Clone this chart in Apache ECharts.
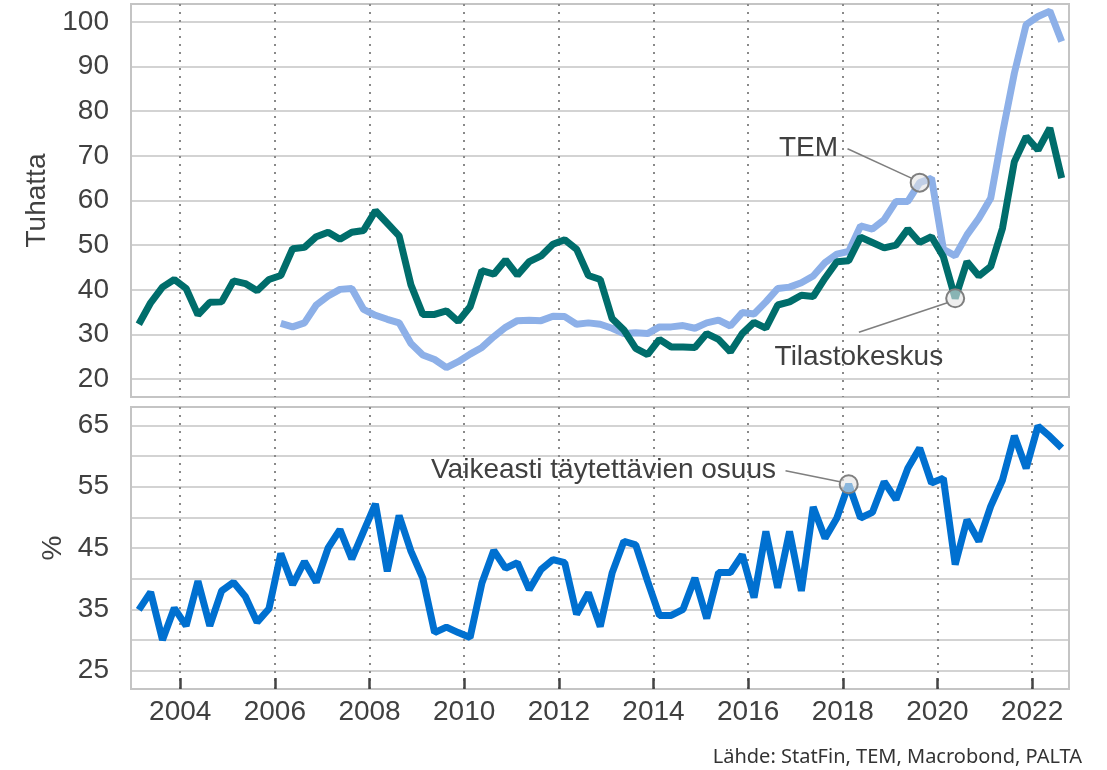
<!DOCTYPE html>
<html>
<head>
<meta charset="utf-8">
<title>Avoimet työpaikat</title>
<style>
    html, body { margin: 0; padding: 0; background: #fff; }
    #container { width: 1107px; height: 770px; }
</style>
</head>
<body>
<div id="container"></div>
<script src="https://cdn.jsdelivr.net/npm/echarts@6/dist/echarts.min.js"></script>
<script>
    // vuosineljännekset 2003Q1 .. 2022Q3
    var startYear = 2003;
    var evenYears = [2004, 2006, 2008, 2010, 2012, 2014, 2016, 2018, 2020, 2022];
    var topGridValues = [20, 30, 40, 50, 60, 70, 80, 90, 100];
    var bottomGridValues = [25, 30, 35, 40, 45, 50, 55, 60, 65];
    var bottomLabelValues = [25, 35, 45, 55, 65];

    // Tilastokeskus, tuhatta
    var tilastokeskus = [
        32.3, 37.1, 40.6, 42.3, 40.3, 34.4, 37.2, 37.3, 42.0, 41.4, 39.8, 42.3,
        43.2, 49.2, 49.5, 51.9, 52.9, 51.3, 52.9, 53.3, 57.7, 54.9, 52.1, 41.1,
        34.5, 34.5, 35.3, 32.9, 36.2, 44.3, 43.5, 46.7, 43.3, 46.3, 47.6, 50.2,
        51.2, 49.1, 43.2, 42.3, 33.6, 31.0, 26.9, 25.5, 28.9, 27.2, 27.2, 27.1,
        30.2, 28.9, 26.1, 30.2, 32.7, 31.4, 36.6, 37.3, 38.8, 38.5, 42.6, 46.3,
        46.5, 51.8, 50.6, 49.4, 50.0, 53.6, 50.6, 51.9, 47.4, 38.1, 46.3, 43.1,
        45.2, 53.8, 68.7, 74.3, 71.3, 76.2, 65.0
    ];
    // TEM, tuhatta (alkaa 2006Q1)
    var temStart = 12;
    var tem = [
        32.5, 31.7, 32.6, 36.6, 38.6, 40.1, 40.3, 35.6, 34.3, 33.4, 32.6, 28.0,
        25.4, 24.4, 22.6, 23.9, 25.6, 27.1, 29.5, 31.6, 33.1, 33.2, 33.1, 34.1,
        34.0, 32.3, 32.6, 32.3, 31.4, 30.2, 30.4, 30.2, 31.7, 31.7, 32.0, 31.4,
        32.6, 33.2, 31.9, 34.9, 34.6, 37.3, 40.3, 40.6, 41.6, 43.1, 46.1, 48.0,
        48.6, 54.3, 53.6, 55.7, 59.8, 59.8, 64.0, 65.0, 49.1, 47.6, 52.3, 56.0,
        60.5, 75.1, 88.5, 99.4, 101.2, 102.4, 95.6
    ];
    // Vaikeasti täytettävien osuus, %
    var osuus = [
        34.9, 37.8, 30.0, 35.2, 32.3, 39.6, 32.3, 38.0, 39.4, 37.1, 32.9, 35.1,
        44.1, 39.0, 42.8, 39.4, 45.0, 48.0, 43.2, 47.7, 52.2, 41.2, 50.3, 44.5,
        40.1, 31.2, 32.1, 31.2, 30.4, 39.3, 44.6, 41.7, 42.6, 38.2, 41.5, 43.1,
        42.6, 34.2, 37.7, 32.2, 40.9, 46.1, 45.5, 39.6, 34.0, 34.0, 35.0, 40.1,
        33.5, 41.0, 41.0, 43.9, 36.9, 47.7, 38.5, 47.7, 38.0, 51.7, 46.6, 49.9,
        55.4, 49.9, 50.8, 55.8, 52.9, 58.0, 61.3, 55.6, 56.4, 42.3, 49.6, 46.1,
        51.8, 56.1, 63.3, 58.0, 64.9, 63.2, 61.3
    ];

    function quarterPos(k) {
        return startYear + (k + 0.5) / 4;
    }
    function toPairs(values, offset) {
        return values.map(function (v, i) { return [quarterPos(i + offset), v]; });
    }

    var labelFont = { fontFamily: 'Liberation Sans', fontSize: 28, color: '#404040' };
    var gridLine = { show: true, lineStyle: { color: '#c4c4c4', width: 1.5 } };
    var dotLine = { show: true, lineStyle: { color: '#8a8a8a', width: 2, type: [2, 6] } };
    var ring = { color: 'rgba(228,228,228,0.6)', borderColor: '#7f7f7f', borderWidth: 2 };
    var leader = { color: '#7f7f7f', width: 1.5, type: 'solid' };

    function noteLabel(coord, text, pos) {
        return {
            coord: coord, symbol: 'circle', symbolSize: 1,
            itemStyle: { color: 'rgba(0,0,0,0)' },
            label: {
                show: true, position: pos, distance: 9, formatter: text,
                fontFamily: 'Liberation Sans', fontSize: 28, color: '#404040'
            }
        };
    }
    function noteRing(coord) {
        return { coord: coord, symbol: 'circle', symbolSize: 18, itemStyle: ring, label: { show: false } };
    }

    var myChart = echarts.init(document.getElementById('container'));

    myChart.setOption({
        animation: false,
        backgroundColor: '#fff',
        title: {
            text: 'Lähde: StatFin, TEM, Macrobond, PALTA',
            right: 25, bottom: 3, padding: 0,
            textStyle: { fontFamily: 'Noto Sans', fontSize: 20, fontWeight: 'normal', color: '#333' }
        },
        grid: [
            { left: 131, right: 38, top: 4, height: 393, show: true, borderColor: '#c4c4c4', borderWidth: 2 },
            { left: 131, right: 38, top: 407, height: 282, show: true, borderColor: '#c4c4c4', borderWidth: 2 }
        ],
        xAxis: [
            {
                type: 'value', gridIndex: 0, min: 2002.96, max: 2022.78,
                axisLine: { show: false },
                axisTick: { show: false, customValues: evenYears },
                axisLabel: { show: false, customValues: evenYears },
                splitLine: dotLine
            },
            {
                type: 'value', gridIndex: 1, min: 2002.96, max: 2022.78,
                axisLine: { show: false },
                axisTick: { show: true, inside: true, length: 11, customValues: evenYears,
                    lineStyle: { color: '#444', width: 2.5 } },
                axisLabel: Object.assign({
                    margin: 9, customValues: evenYears,
                    formatter: function (v) { return String(v); }
                }, labelFont),
                splitLine: dotLine
            }
        ],
        yAxis: [
            {
                type: 'value', gridIndex: 0, min: 16, max: 104,
                name: 'Tuhatta', nameLocation: 'middle', nameGap: 80, nameRotate: 90,
                nameTextStyle: labelFont,
                axisLine: { show: false },
                axisTick: { show: false, customValues: topGridValues },
                axisLabel: Object.assign({ margin: 22, customValues: topGridValues }, labelFont),
                splitLine: gridLine
            },
            {
                type: 'value', gridIndex: 1, min: 22, max: 68,
                name: '%', nameLocation: 'middle', nameGap: 64, nameRotate: 90,
                nameTextStyle: labelFont,
                axisLine: { show: false },
                axisTick: { show: false, customValues: bottomGridValues },
                axisLabel: Object.assign({ margin: 22, customValues: bottomLabelValues }, labelFont),
                splitLine: gridLine
            }
        ],
        series: [
            {
                name: 'Tilastokeskus', type: 'line', xAxisIndex: 0, yAxisIndex: 0,
                data: toPairs(tilastokeskus, 0), showSymbol: false, z: 3,
                lineStyle: { color: '#006d6b', width: 7 },
                markLine: {
                    silent: true, symbol: ['none', 'none'], label: { show: false },
                    lineStyle: leader,
                    data: [[{ coord: [2018.34, 30.5] }, { coord: [2020.21, 37.1] }]]
                },
                markPoint: {
                    silent: true,
                    data: [noteRing([2020.375, 38.1]), noteLabel([2018.34, 25.0], 'Tilastokeskus', 'inside')]
                }
            },
            {
                name: 'TEM', type: 'line', xAxisIndex: 0, yAxisIndex: 0,
                data: toPairs(tem, temStart), showSymbol: false, z: 2,
                lineStyle: { color: '#8db0e8', width: 7 },
                markLine: {
                    silent: true, symbol: ['none', 'none'], label: { show: false },
                    lineStyle: leader,
                    data: [[{ coord: [2018.10, 71.6] }, { coord: [2019.45, 65.0] }]]
                },
                markPoint: {
                    silent: true,
                    data: [noteRing([2019.625, 64.0]), noteLabel([2018.10, 71.6], 'TEM', 'left')]
                }
            },
            {
                name: 'Vaikeasti täytettävien osuus', type: 'line', xAxisIndex: 1, yAxisIndex: 1,
                data: toPairs(osuus, 0), showSymbol: false,
                lineStyle: { color: '#0070d0', width: 7 },
                markLine: {
                    silent: true, symbol: ['none', 'none'], label: { show: false },
                    lineStyle: leader,
                    data: [[{ coord: [2016.79, 57.6] }, { coord: [2017.94, 55.8] }]]
                },
                markPoint: {
                    silent: true,
                    data: [noteRing([2018.125, 55.4]), noteLabel([2016.79, 57.6], 'Vaikeasti täytettävien osuus', 'left')]
                }
            }
        ]
    });
</script>
</body>
</html>
